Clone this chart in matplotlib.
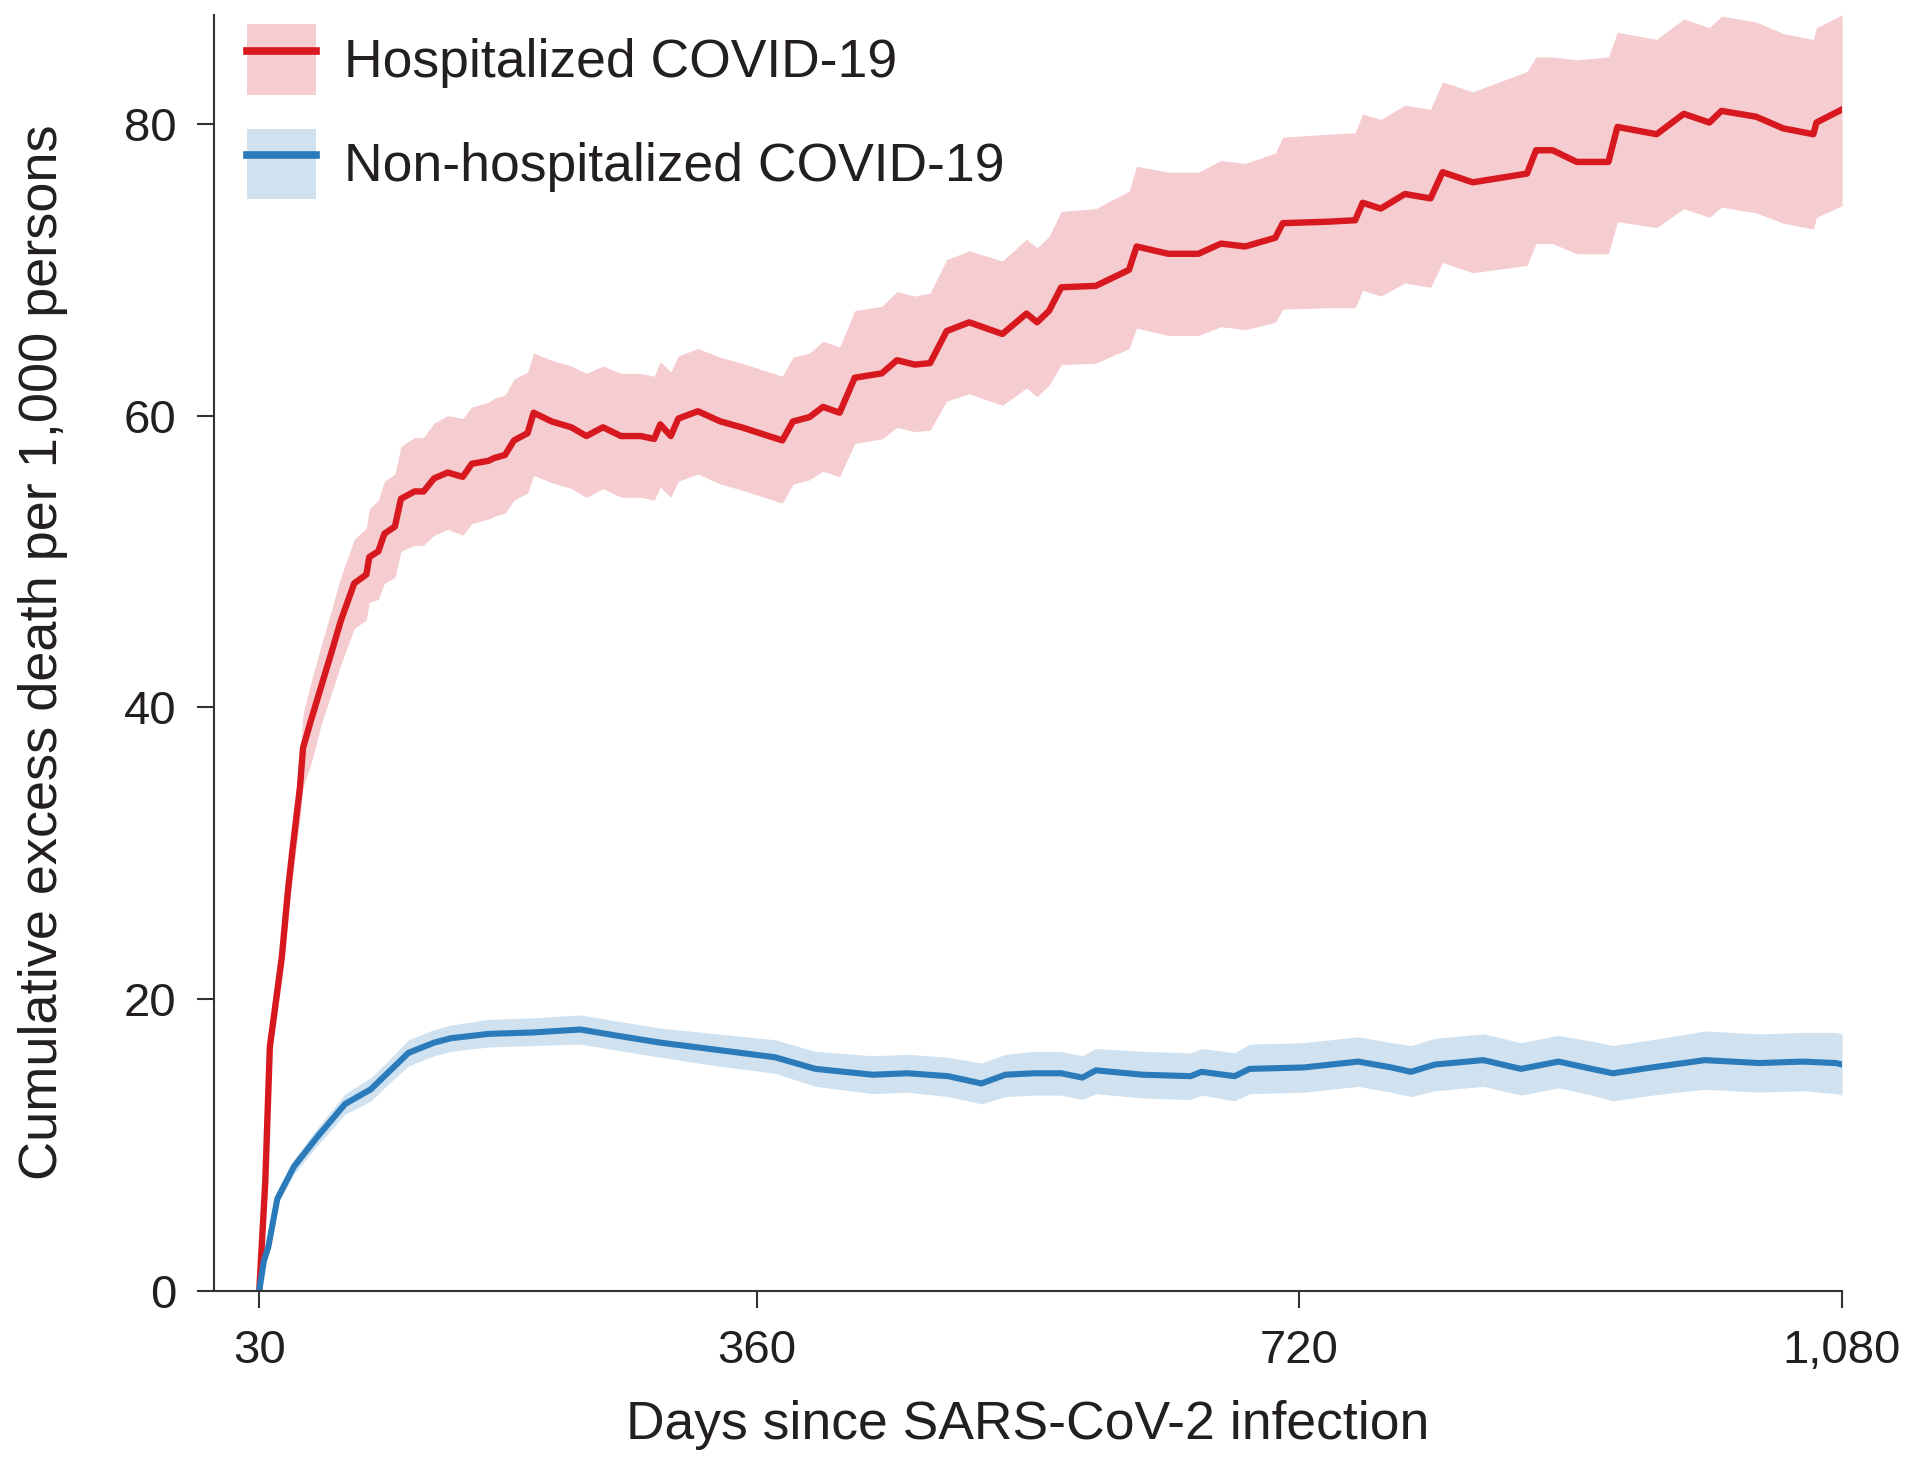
import matplotlib
matplotlib.use("Agg")
import matplotlib.pyplot as plt
from matplotlib.patches import Patch
from matplotlib.lines import Line2D

plt.rcParams['font.family'] = ['Liberation Sans', 'DejaVu Sans']

# Hospitalized COVID-19 : jours, valeur, bornes IC
hosp_days = [30, 34, 37, 41, 45, 49, 52, 57, 59, 64, 71, 78, 84, 93, 101, 103, 109, 113,
             120, 124, 133, 139, 146, 155, 165, 171, 182, 186, 193, 199, 208, 212, 224,
             237, 247, 258, 270, 283, 292, 296, 303, 308, 321, 336, 350, 362, 377, 384,
             395, 404, 415, 425, 443, 453, 465, 475, 486, 501, 523, 539, 546, 554, 562,
             585, 607, 612, 633, 653, 668, 684, 704, 709, 739, 757, 762, 774, 790, 807,
             815, 835, 871, 877, 888, 904, 925, 931, 957, 975, 992, 1000, 1023, 1041,
             1061, 1063, 1080]
hosp_mid = [0.0, 7.5, 16.7, 19.8, 22.9, 27.4, 30.2, 34.5, 37.2, 39.0, 41.4, 43.8, 45.9,
            48.5, 49.1, 50.3, 50.7, 51.9, 52.4, 54.3, 54.8, 54.8, 55.7, 56.1, 55.8, 56.7,
            56.9, 57.1, 57.3, 58.3, 58.8, 60.2, 59.6, 59.2, 58.6, 59.2, 58.6, 58.6, 58.4,
            59.4, 58.6, 59.8, 60.3, 59.6, 59.2, 58.8, 58.3, 59.6, 59.9, 60.6, 60.2, 62.6,
            62.9, 63.8, 63.5, 63.6, 65.8, 66.4, 65.6, 67.0, 66.4, 67.2, 68.8, 68.9, 70.0,
            71.6, 71.1, 71.1, 71.8, 71.6, 72.2, 73.2, 73.3, 73.4, 74.6, 74.2, 75.2, 74.9,
            76.7, 76.0, 76.6, 78.2, 78.2, 77.4, 77.4, 79.8, 79.3, 80.7, 80.1, 80.9, 80.5,
            79.7, 79.3, 80.1, 81.0]
hosp_lo = [0.0, 7.0, 15.8, 18.6, 21.4, 25.7, 28.3, 32.4, 34.5, 36.0, 38.8, 41.0, 42.9,
           45.4, 46.0, 47.2, 47.4, 48.5, 48.9, 50.7, 51.1, 51.1, 51.8, 52.2, 51.8, 52.6,
           52.9, 53.1, 53.3, 54.2, 54.7, 55.9, 55.4, 55.0, 54.4, 55.0, 54.4, 54.4, 54.2,
           55.1, 54.4, 55.5, 56.0, 55.3, 54.9, 54.5, 54.0, 55.3, 55.6, 56.2, 55.8, 58.1,
           58.4, 59.2, 58.9, 59.0, 61.0, 61.5, 60.7, 61.9, 61.3, 62.1, 63.5, 63.6, 64.6,
           66.0, 65.5, 65.5, 66.1, 65.9, 66.4, 67.3, 67.4, 67.4, 68.6, 68.2, 69.1, 68.8,
           70.5, 69.8, 70.3, 71.8, 71.8, 71.1, 71.1, 73.3, 72.9, 74.2, 73.6, 74.3, 73.9,
           73.2, 72.8, 73.6, 74.4]
hosp_hi = [0.0, 8.1, 17.7, 21.1, 24.5, 29.2, 32.1, 36.7, 39.5, 41.6, 44.2, 46.7, 48.9,
           51.5, 52.3, 53.6, 54.2, 55.5, 56.0, 57.9, 58.5, 58.5, 59.5, 60.0, 59.8, 60.6,
           60.9, 61.2, 61.4, 62.5, 63.0, 64.3, 63.8, 63.4, 62.9, 63.4, 62.9, 62.9, 62.7,
           63.7, 63.0, 64.1, 64.6, 64.0, 63.6, 63.2, 62.7, 64.0, 64.3, 65.1, 64.7, 67.2,
           67.5, 68.5, 68.2, 68.4, 70.7, 71.3, 70.6, 72.1, 71.5, 72.3, 74.0, 74.2, 75.4,
           77.1, 76.7, 76.7, 77.5, 77.3, 78.0, 79.1, 79.3, 79.4, 80.7, 80.3, 81.3, 81.0,
           82.9, 82.2, 83.6, 84.6, 84.6, 84.4, 84.6, 86.3, 85.8, 87.2, 86.6, 87.4, 87.0,
           86.2, 85.8, 86.6, 87.5]

# Non-hospitalized COVID-19
nonhosp_days = [30, 33, 36, 42, 53, 69, 87, 104, 115, 129, 146, 157, 182, 212, 243, 266,
                296, 334, 372, 399, 437, 460, 487, 509, 525, 544, 562, 576, 585, 616, 648,
                655, 677, 687, 723, 759, 781, 794, 810, 842, 867, 892, 914, 928, 954, 989,
                1025, 1054, 1076, 1080]
nonhosp_mid = [0.0, 2.0, 3.0, 6.3, 8.5, 10.6, 12.8, 13.8, 14.9, 16.3, 17.0, 17.3, 17.6,
               17.7, 17.9, 17.5, 17.0, 16.5, 16.0, 15.2, 14.8, 14.9, 14.7, 14.2, 14.8, 14.9,
               14.9, 14.6, 15.1, 14.8, 14.7, 15.0, 14.7, 15.2, 15.3, 15.7, 15.3, 15.0, 15.5,
               15.8, 15.2, 15.7, 15.2, 14.9, 15.3, 15.8, 15.6, 15.7, 15.6, 15.5]
nonhosp_lo = [0.0, 1.8, 2.7, 5.9, 8.0, 10.0, 12.1, 13.0, 14.1, 15.4, 16.1, 16.4, 16.7,
              16.8, 16.9, 16.5, 16.0, 15.4, 14.9, 14.0, 13.5, 13.6, 13.3, 12.8, 13.3, 13.4,
              13.4, 13.1, 13.5, 13.2, 13.1, 13.4, 13.0, 13.5, 13.6, 14.0, 13.6, 13.3, 13.7,
              14.0, 13.4, 13.9, 13.4, 13.0, 13.4, 13.8, 13.6, 13.7, 13.5, 13.4]
nonhosp_hi = [0.0, 2.2, 3.3, 6.7, 9.0, 11.2, 13.5, 14.6, 15.7, 17.2, 17.9, 18.2, 18.6,
              18.7, 18.9, 18.5, 18.0, 17.6, 17.2, 16.4, 16.1, 16.2, 16.0, 15.6, 16.2, 16.4,
              16.4, 16.1, 16.6, 16.4, 16.3, 16.6, 16.3, 16.9, 17.0, 17.4, 17.0, 16.8, 17.3,
              17.6, 17.0, 17.5, 17.1, 16.8, 17.2, 17.8, 17.6, 17.7, 17.7, 17.6]

x_ticks = [30, 360, 720, 1080]
x_labels = ['30', '360', '720', '1,080']
y_ticks = [0, 20, 40, 60, 80]

red = '#d7191f'
red_band = '#f5ccd0'
blue = '#2b7bba'
blue_band = '#d0e2f0'
txt = '#231f20'

fig = plt.figure(figsize=(19.18, 14.65), dpi=100)
ax = fig.add_axes([0.1116, 0.1191, 0.8488, 0.8709])

ax.fill_between(hosp_days, hosp_lo, hosp_hi, color=red_band, lw=0)
ax.fill_between(nonhosp_days, nonhosp_lo, nonhosp_hi, color=blue_band, lw=0)
ax.plot(hosp_days, hosp_mid, color=red, lw=4.6, solid_joinstyle='round')
ax.plot(nonhosp_days, nonhosp_mid, color=blue, lw=4.4, solid_joinstyle='round')

ax.set_xlim(0, 1080)
ax.set_ylim(0, 87.5)
ax.set_xticks(x_ticks)
ax.set_xticklabels(x_labels)
ax.set_yticks(y_ticks)

for s in ['top', 'right']:
    ax.spines[s].set_visible(False)
for s in ['left', 'bottom']:
    ax.spines[s].set_linewidth(1.5)
    ax.spines[s].set_color('#333333')

ax.tick_params(axis='both', length=12, width=1.5, color='#333333',
               labelsize=34, labelcolor=txt)
ax.tick_params(axis='x', pad=16)
ax.tick_params(axis='y', pad=15)

ax.set_xlabel('Days since SARS-CoV-2 infection', fontsize=38.5, color=txt)
ax.set_ylabel('Cumulative excess death per 1,000 persons', fontsize=39, color=txt)
ax.xaxis.set_label_coords(0.5, -0.086)
ax.yaxis.set_label_coords(-0.09, 0.5)

handles = [(Patch(facecolor=red_band, edgecolor='none'), Line2D([], [], color=red, lw=5.5)),
           (Patch(facecolor=blue_band, edgecolor='none'), Line2D([], [], color=blue, lw=5.5))]
ax.legend(handles, ['Hospitalized COVID-19', 'Non-hospitalized COVID-19'],
          loc='upper left', bbox_to_anchor=(0.0203, 0.9923), frameon=False,
          fontsize=38.5, numpoints=1, handlelength=1.28, handleheight=1.64,
          handletextpad=0.53, labelspacing=0.64, borderpad=0, borderaxespad=0,
          labelcolor=txt)

fig.savefig('out.png', dpi=100)
